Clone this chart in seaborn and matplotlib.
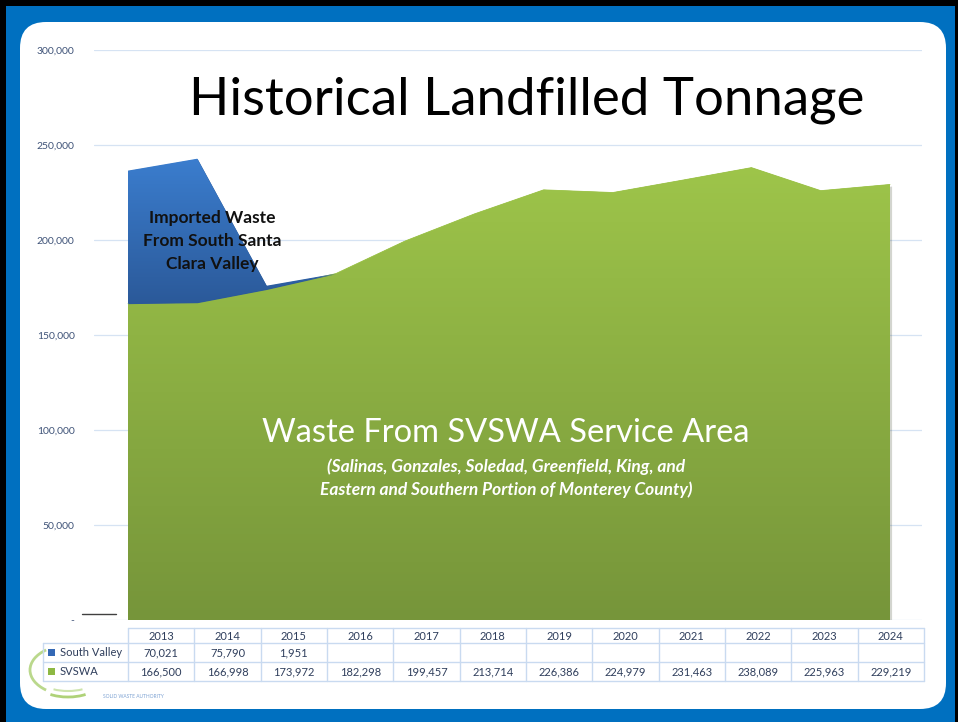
import numpy as np
import pandas as pd
import matplotlib.pyplot as plt
import seaborn as sns
from matplotlib.patches import FancyBboxPatch, Rectangle, PathPatch, Arc
from matplotlib.colors import LinearSegmentedColormap
import matplotlib.patheffects as pe

years = [2013, 2014, 2015, 2016, 2017, 2018, 2019, 2020, 2021, 2022, 2023, 2024]
south_valley = [70021, 75790, 1951, 0, 0, 0, 0, 0, 0, 0, 0, 0]
svswa = [166500, 166998, 173972, 182298, 199457, 213714, 226386, 224979,
         231463, 238089, 225963, 229219]
y_ticks = [0, 50000, 100000, 150000, 200000, 250000, 300000]
y_tick_labels = ["-", "50,000", "100,000", "150,000", "200,000", "250,000", "300,000"]

df = pd.DataFrame({"year": years, "south_valley": south_valley, "svswa": svswa})
df["idx"] = np.arange(len(df))
df["total"] = df["svswa"] + df["south_valley"]

sns.set_theme(style="white")
plt.rcParams["font.family"] = ["Lato", "DejaVu Sans"]

W, H = 958, 722
fig = plt.figure(figsize=(W / 100, H / 100), dpi=100, facecolor="black")

# background frame (pixel coords)
bg = fig.add_axes([0, 0, 1, 1])
bg.set_xlim(0, W)
bg.set_ylim(H, 0)
bg.axis("off")
bg.add_patch(Rectangle((6, 6), 949, 716, color="#0070C0", lw=0))
bg.add_patch(FancyBboxPatch((20, 22), 926, 687, boxstyle="round,pad=0,rounding_size=26",
                            facecolor="white", edgecolor="none"))
# bits of the logo peeking out
bg.add_patch(Arc((70, 670), 80, 50, theta1=140, theta2=220, color="#8DBF3F", lw=2, alpha=0.6))
bg.add_patch(Arc((68, 688), 50, 18, theta1=20, theta2=160, color="#8DBF3F", lw=2, alpha=0.7))
bg.add_patch(Arc((68, 684), 44, 14, theta1=20, theta2=160, color="#B9D989", lw=1.5, alpha=0.7))
bg.text(103, 697, "SOLID WASTE AUTHORITY", fontsize=3.5, color="#7FA3D3", va="center")

# chart area
ax = fig.add_axes([94 / W, 1 - 620 / H, 828 / W, 570 / H])
ax.set_facecolor("none")
x0, x1 = -34 / 69.27, 11 + 32 / 69.27


def grad_fill(lower, upper, c_top, c_bot, ytop, ybot, z, shadow=False):
    poly = ax.fill_between(df["idx"], lower, upper, color=c_bot, lw=0, zorder=z)
    if shadow:
        poly.set_path_effects([pe.SimplePatchShadow(offset=(1.5, -1.5), alpha=0.2), pe.Normal()])
    path = poly.get_paths()[0]
    clip = PathPatch(path, transform=ax.transData, facecolor="none", edgecolor="none")
    ax.add_patch(clip)
    cmap = LinearSegmentedColormap.from_list("g", [c_bot, c_top])
    grad = np.linspace(0, 1, 256).reshape(-1, 1)
    im = ax.imshow(grad, cmap=cmap, aspect="auto", origin="lower",
                   extent=[0, len(df) - 1, ybot, ytop], zorder=z + 0.1, interpolation="bicubic")
    im.set_clip_path(clip)


grad_fill(0, df["svswa"], "#9EC54A", "#76953A", 240000, 0, 2, shadow=True)
grad_fill(df["svswa"], df["total"], "#3B7ECF", "#2B5999", 244000, 166000, 3)
sns.lineplot(data=df, x="idx", y="svswa", color="#9EC54A", lw=0.6, ax=ax, zorder=2.5)

ax.set_xlim(x0, x1)
ax.set_ylim(0, 300000)
ax.set_yticks(y_ticks)
ax.set_yticklabels(y_tick_labels, fontsize=7.5, color="#3F5378")
ax.tick_params(axis="y", length=0, pad=14)
ax.set_xticks([])
ax.grid(axis="y", color="#D6E3F3", lw=0.9, zorder=0)
for s in ax.spines.values():
    s.set_visible(False)
ax.set_xlabel("")
ax.set_ylabel("")

# annotations
fig.text(527 / W, 1 - 100 / H, "Historical Landfilled Tonnage", fontsize=38,
         ha="center", va="center", color="black")
ax.text(1.22, 199500, "Imported Waste\nFrom South Santa\nClara Valley", fontsize=12.5,
        fontweight="bold", ha="center", va="center", color="#111111", linespacing=1.55, zorder=5)
fig.text(506 / W, 1 - 433 / H, "Waste From SVSWA Service Area", fontsize=23.5,
         ha="center", va="center", color="white")
fig.text(506 / W, 1 - 478 / H,
         "(Salinas, Gonzales, Soledad, Greenfield, King, and\nEastern and Southern Portion of Monterey County)",
         fontsize=12.5, fontweight="bold", style="italic", ha="center", va="center",
         color="white", linespacing=1.45)

# little artifact near the origin
bg.plot([82, 116], [614, 614], color="#404040", lw=1)

# data table
grid_c = "#C9DAF0"
col_l, col_w = 128, 796 / 12
rows = [628, 643, 662, 681]
txt_c = "#2F3E5C"
for i in range(13):
    xc = col_l + i * col_w
    bg.plot([xc, xc], [rows[0], rows[3]], color=grid_c, lw=1)
bg.plot([43, 43], [rows[1], rows[3]], color=grid_c, lw=1)
bg.plot([col_l, col_l + 12 * col_w], [rows[0], rows[0]], color=grid_c, lw=1)
for r in rows[1:]:
    bg.plot([43, col_l + 12 * col_w], [r, r], color=grid_c, lw=1)

for i, yr in enumerate(df["year"]):
    xc = col_l + (i + 0.5) * col_w
    bg.text(xc, 636, str(yr), fontsize=8, ha="center", va="center", color=txt_c)
    sv = df["south_valley"][i]
    if sv:
        bg.text(xc, 653, f"{sv:,}", fontsize=8, ha="center", va="center", color=txt_c)
    bg.text(xc, 672, f"{df['svswa'][i]:,}", fontsize=8, ha="center", va="center", color=txt_c)

bg.add_patch(Rectangle((48, 649), 7, 7, color="#3468B5", lw=0))
bg.add_patch(Rectangle((48, 668), 7, 7, color="#8DB843", lw=0))
bg.text(60, 652.5, "South Valley", fontsize=8, va="center", color=txt_c)
bg.text(60, 671.5, "SVSWA", fontsize=8, va="center", color=txt_c)

fig.savefig("out.png", dpi=100, facecolor=fig.get_facecolor())
